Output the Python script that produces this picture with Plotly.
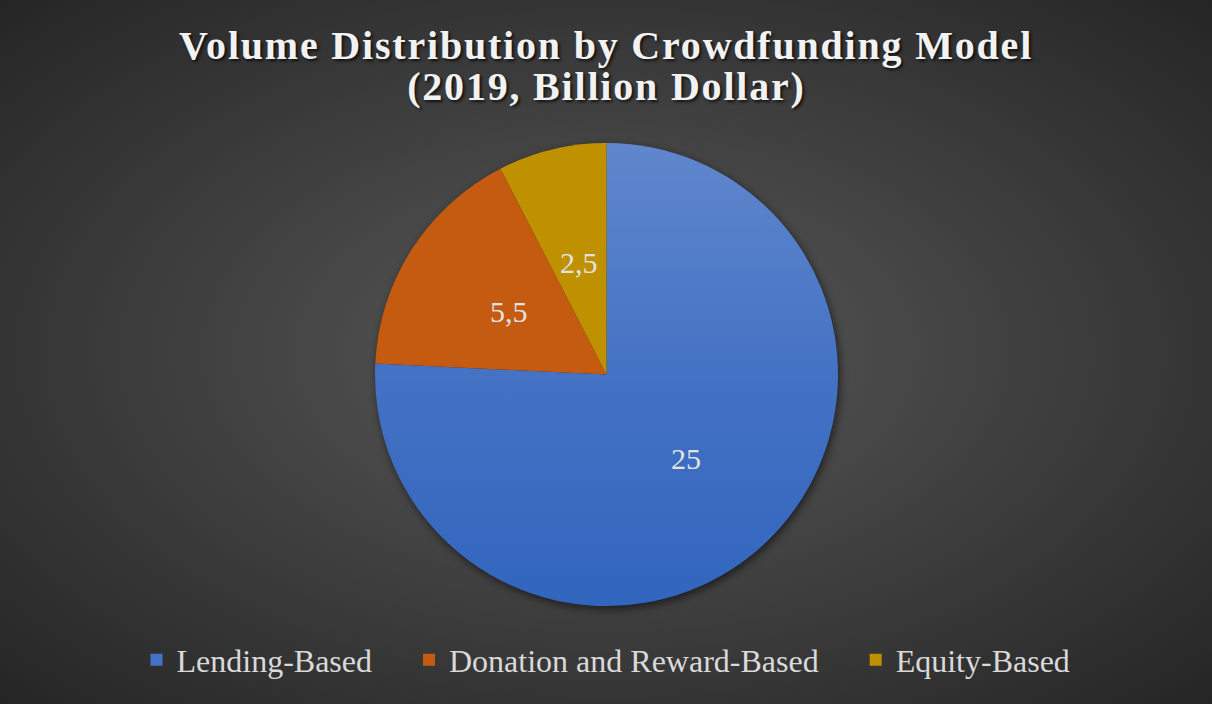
import base64
import math
import plotly.graph_objects as go

# Crowdfunding volume by model, 2019 (billion dollars)
models = ["Lending-Based", "Donation and Reward-Based", "Equity-Based"]
volumes = [25, 5.5, 2.5]
slice_colors = ["#4472C4", "#C55A11", "#BF9000"]

title_lines = ["Volume Distribution by Crowdfunding Model", "(2019, Billion Dollar)"]

W, H = 1212, 704
SERIF = "Liberation Serif, Times New Roman, serif"

# pie placement in pixels (left, top, diameter)
PIE_L, PIE_T, PIE_D = 375, 143, 463


def svg_uri(svg):
    return "data:image/svg+xml;base64," + base64.b64encode(svg.encode()).decode()


# radial dark-gray backdrop with a soft drop shadow under the pie
cx, cy, r = PIE_L + PIE_D / 2, PIE_T + PIE_D / 2, PIE_D / 2
bg_svg = (
    f'<svg xmlns="http://www.w3.org/2000/svg" width="{W}" height="{H}" '
    f'viewBox="0 0 {W} {H}" preserveAspectRatio="none">'
    '<defs><radialGradient id="g" cx="50%" cy="50%" r="75%">'
    '<stop offset="0" stop-color="#595959"/>'
    '<stop offset="1" stop-color="#222222"/>'
    '</radialGradient>'
    '<filter id="b" x="-20%" y="-20%" width="140%" height="140%">'
    '<feGaussianBlur stdDeviation="4"/></filter></defs>'
    f'<rect width="{W}" height="{H}" fill="url(#g)"/>'
    f'<circle cx="{cx + 2}" cy="{cy + 3}" r="{r}" fill="#000" opacity="0.55" filter="url(#b)"/>'
    '</svg>'
)

# vertical light-to-deep sheen over the large slice (right half + lower half)
sheen_svg = (
    f'<svg xmlns="http://www.w3.org/2000/svg" width="{PIE_D}" height="{PIE_D}" '
    f'viewBox="0 0 {PIE_D} {PIE_D}">'
    '<defs><linearGradient id="s" x1="0" y1="0" x2="0" y2="1">'
    '<stop offset="0" stop-color="#ffffff" stop-opacity="0.15"/>'
    '<stop offset="0.5" stop-color="#ffffff" stop-opacity="0"/>'
    '<stop offset="0.5" stop-color="#0A4AB0" stop-opacity="0"/>'
    '<stop offset="1" stop-color="#0A4AB0" stop-opacity="0.32"/>'
    '</linearGradient>'
    '<clipPath id="c">'
    f'<rect x="{r}" y="0" width="{r}" height="{PIE_D}"/>'
    f'<rect x="0" y="{r}" width="{PIE_D}" height="{r}"/>'
    '</clipPath></defs>'
    f'<circle cx="{r}" cy="{r}" r="{r}" fill="url(#s)" clip-path="url(#c)"/>'
    '</svg>'
)

fig = go.Figure(
    go.Pie(
        labels=models,
        values=volumes,
        sort=False,
        direction="clockwise",
        rotation=0,
        marker=dict(colors=slice_colors, line=dict(width=0)),
        textinfo="none",
        domain=dict(x=[PIE_L / W, (PIE_L + PIE_D) / W],
                    y=[1 - (PIE_T + PIE_D) / H, 1 - PIE_T / H]),
        hoverinfo="label+value",
    )
)

annotations = []
for i, line in enumerate(title_lines):
    annotations.append(
        dict(
            text=line,
            xref="paper", yref="paper",
            x=0.5, y=1 - (46 + 41 * i) / H,
            xanchor="center", yanchor="middle",
            showarrow=False,
            font=dict(family=SERIF, size=40, color="#F2F2F2", weight="bold",
                      shadow="2px 2px 3px rgba(0,0,0,0.7)"),
        )
    )

# value labels at half radius along each slice's middle angle
total = sum(volumes)
pcx, pcy = cx / W, 1 - cy / H
lab_rx, lab_ry = 0.5 * r / W, 0.5 * r / H
cum = 0.0
for v in volumes:
    mid = 2 * math.pi * (cum + v / 2) / total  # clockwise from 12 o'clock
    cum += v
    annotations.append(
        dict(
            text=f"{v:g}".replace(".", ","),
            xref="paper", yref="paper",
            x=pcx + lab_rx * math.sin(mid), y=pcy + lab_ry * math.cos(mid),
            xanchor="center", yanchor="middle",
            showarrow=False,
            font=dict(family=SERIF, size=30, color="#E2E2E2"),
        )
    )

# padded legend names keep wide gaps between entries
pad = "\u00a0" * 4
fig.data[0].labels = [m + pad for m in models[:-1]] + [models[-1]]

fig.update_layout(
    width=W, height=H,
    margin=dict(l=0, r=0, t=0, b=0),
    paper_bgcolor="#3a3a3a",
    plot_bgcolor="rgba(0,0,0,0)",
    separators=",.",
    images=[
        dict(source=svg_uri(bg_svg), xref="paper", yref="paper", x=0, y=1,
             sizex=1, sizey=1, sizing="stretch", layer="below",
             xanchor="left", yanchor="top"),
        dict(source=svg_uri(sheen_svg), xref="paper", yref="paper",
             x=PIE_L / W, y=1 - PIE_T / H, sizex=PIE_D / W, sizey=PIE_D / H,
             sizing="stretch", layer="above", xanchor="left", yanchor="top"),
    ],
    annotations=annotations,
    showlegend=True,
    legend=dict(
        orientation="h",
        x=0.5, xanchor="center",
        y=1 - 660 / H, yanchor="middle",
        font=dict(family=SERIF, size=32, color="#D9D9D9"),
        bgcolor="rgba(0,0,0,0)",
        itemclick=False, itemdoubleclick=False,
    ),
)

# widen the title's letter spacing
post = """
document.querySelectorAll('.annotation-text').forEach(function(t){
  if (t.textContent.length > 10) t.style.letterSpacing = '1.8px';
});
"""

fig.write_html("out.html", config={"displayModeBar": False}, post_script=post)
